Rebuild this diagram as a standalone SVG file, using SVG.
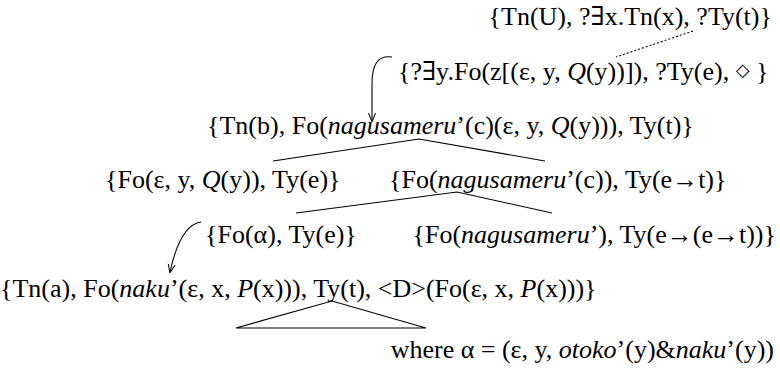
<svg xmlns="http://www.w3.org/2000/svg" width="780" height="380" viewBox="0 0 780 380">
<defs>
<style>
text{font-family:"Liberation Serif","DejaVu Serif",serif;font-size:26px;fill:#000}
.i{font-style:italic}
.e{text-anchor:end}
.d{font-size:18px}
.l{stroke:#000;stroke-width:1.1;fill:none}
</style>
<marker id="ah" viewBox="0 0 10 10" refX="9" refY="5" markerWidth="8" markerHeight="8" orient="auto"><path d="M0,1 L10,5 L0,9" fill="none" stroke="#000" stroke-width="1.2"/></marker>
</defs>
<rect width="780" height="380" fill="#fff"/>
<g id="n1"><text class="e" x="772" y="25">{Tn(U), ?∃x.Tn(x), ?Ty(t)}</text></g>
<g id="n2"><text x="398" y="80">{?∃y.Fo(z[(ε, y, <tspan class="i">Q</tspan>(y))]), ?Ty(e), <tspan class="d" dy="-4">◇</tspan><tspan dy="4"> }</tspan></text></g>
<g id="n3"><text x="207" y="134">{Tn(b), Fo(<tspan class="i">nagusameru</tspan>’(c)(ε, y, <tspan class="i">Q</tspan>(y))), Ty(t)}</text></g>
<g id="n4"><text x="105" y="188">{Fo(ε, y, <tspan class="i">Q</tspan>(y)), Ty(e)}</text></g>
<g id="n5"><text x="389" y="188">{Fo(<tspan class="i">nagusameru</tspan>’(c)), Ty(e→t)}</text></g>
<g id="n6"><text x="205" y="243">{Fo(α), Ty(e)}</text></g>
<g id="n7"><text class="e" x="776" y="243">{Fo(<tspan class="i">nagusameru</tspan>’), Ty(e→(e→t))}</text></g>
<g id="n8"><text x="0" y="297">{Tn(a), Fo(<tspan class="i">naku</tspan>’(ε, x, <tspan class="i">P</tspan>(x))), Ty(t), &lt;D&gt;(Fo(ε, x, <tspan class="i">P</tspan>(x)))}</text></g>
<g id="note"><text class="e" x="774" y="358">where α = (ε, y, <tspan class="i">otoko</tspan>’(y)&amp;<tspan class="i">naku</tspan>’(y))</text></g>
<g id="connectors">
<path class="l" d="M693,31 L616,57" stroke-dasharray="2,2"/>
<path class="l" d="M392,57 C378,55 372,64 372,84 L372,121" marker-end="url(#ah)"/>
<path class="l" d="M273,161 L419,139 L545,161"/>
<path class="l" d="M296,213 L457,192 L552,213"/>
<path class="l" d="M201,222 C187,224 177,240 170,272" marker-end="url(#ah)"/>
<path class="l" d="M236,328 L332,301 L426,328 Z"/>
</g>
</svg>
